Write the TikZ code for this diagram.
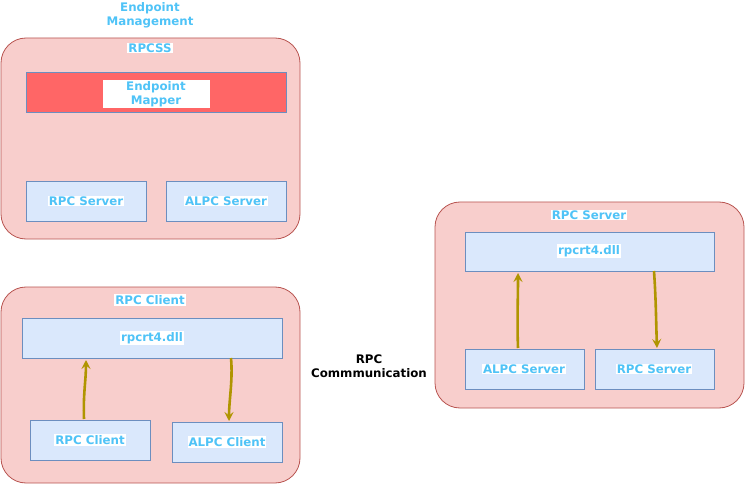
\documentclass[tikz,border=0pt]{standalone}
\usepackage{fontspec}
\setmainfont{DejaVu Sans}
\usetikzlibrary{arrows.meta}
\definecolor{contfill}{HTML}{F8CECC}
\definecolor{contdraw}{HTML}{B85450}
\definecolor{boxfill}{HTML}{DAE8FC}
\definecolor{boxdraw}{HTML}{6C8EBF}
\definecolor{mapfill}{HTML}{FF6666}
\definecolor{txtblue}{HTML}{4FC3F7}
\definecolor{arr}{HTML}{B09500}
\begin{document}
\begin{tikzpicture}[x=1pt,y=-1pt,
  every node/.style={font=\fontsize{11.8}{14}\selectfont\bfseries},
  container/.style={draw=contdraw,fill=contfill,rounded corners=25pt,line width=0.8pt},
  inbox/.style={draw=boxdraw,fill=boxfill,line width=0.8pt},
  mapbox/.style={draw=boxdraw,fill=mapfill,line width=0.8pt},
  lbl/.style={text=txtblue,fill=white,inner sep=1pt,align=center},
  flow/.style={draw=arr,line width=2.6pt,-{Stealth[length=9pt,width=9pt,inset=3.5pt]}}]
\useasboundingbox (0,0) rectangle (745,484);
% containers
\draw[container] (1,38) rectangle (300,239);
\draw[container] (1,287) rectangle (300,483);
\draw[container] (435,202) rectangle (744,408);
% left top
\node[text=txtblue,align=center] (em) at (150,15) {Endpoint\\Management};
\node[lbl] (rpcss) at (150,48) {RPCSS};
\draw[mapbox] (26,72) rectangle (286,112);
\node[text=txtblue,fill=white,align=center,minimum width=107pt,minimum height=28pt,inner sep=0pt] (mapper) at (156,94) {Endpoint\\Mapper};
\draw[inbox] (26,181) rectangle (146,221);
\node[lbl] (rs1) at (86,201) {RPC Server};
\draw[inbox] (166,181) rectangle (286,221);
\node[lbl] (as1) at (226,201) {ALPC Server};
% left bottom
\node[lbl] (rpcclient) at (150,300) {RPC Client};
\draw[inbox] (22,318) rectangle (282,358);
\node[lbl] (dll1) at (152,338) {rpcrt4.dll};
\draw[inbox] (30,420) rectangle (150,460);
\node[lbl] (rc1) at (90,440) {RPC Client};
\draw[inbox] (172,422) rectangle (282,462);
\node[lbl] (ac1) at (227,442) {ALPC Client};
\coordinate (a1s) at (84,419);
\coordinate (a1e) at (86,360);
\coordinate (a2s) at (231,358);
\coordinate (a2e) at (229,421);
\draw[flow] (a1s) .. controls (83,395) and (86,380) .. (a1e);
\draw[flow] (a2s) .. controls (233,380) and (229,400) .. (a2e);
% middle
\node[align=center] (comm) at (369,366) {RPC\\Commmunication};
% right
\node[lbl] (rpcserver) at (589,215) {RPC Server};
\draw[inbox] (465,232) rectangle (714,271);
\node[lbl] (dll2) at (589,251) {rpcrt4.dll};
\draw[inbox] (465,349) rectangle (584,389);
\node[lbl] (as2) at (524,369) {ALPC Server};
\draw[inbox] (595,349) rectangle (714,389);
\node[lbl] (rs2) at (654,369) {RPC Server};
\coordinate (a3s) at (518,348);
\coordinate (a3e) at (518,273);
\coordinate (a4s) at (654,271);
\coordinate (a4e) at (657,348);
\draw[flow] (a3s) .. controls (517,320) and (518,300) .. (a3e);
\draw[flow] (a4s) .. controls (656,300) and (656,320) .. (a4e);
\end{tikzpicture}
\end{document}
